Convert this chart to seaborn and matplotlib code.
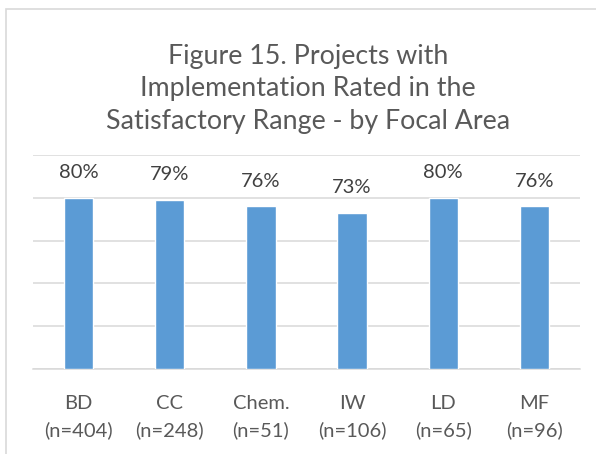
import matplotlib
matplotlib.use("Agg")
import matplotlib.pyplot as plt
import seaborn as sns
import pandas as pd
from matplotlib.patches import Rectangle

categories = ["BD", "CC", "Chem.", "IW", "LD", "MF"]
counts = ["n=404", "n=248", "n=51", "n=106", "n=65", "n=96"]
values = [0.80, 0.79, 0.76, 0.73, 0.80, 0.76]
value_labels = ["80%", "79%", "76%", "73%", "80%", "76%"]
title = "Figure 15. Projects with\nImplementation Rated in the\nSatisfactory Range - by Focal Area"

sns.set_theme(style="white")
plt.rcParams["font.family"] = ["Lato", "DejaVu Sans"]

W, H = 596, 454
fig = plt.figure(figsize=(W / 100, H / 100), dpi=100)
fig.patch.set_facecolor("white")

# chart border (cropped on right/bottom)
fig.patches.append(Rectangle((6 / W, -0.2), 1.2, (H - 9) / H + 0.2,
                             transform=fig.transFigure, fill=False,
                             edgecolor="#D9D9D9", lw=1.2, zorder=0))

ax = fig.add_axes([33 / W, (H - 369) / H, (580 - 33) / W, (369 - 155) / H])
df = pd.DataFrame({"cat": categories, "val": values})
sns.barplot(data=df, x="cat", y="val", color="#5B9BD5", width=0.32,
            saturation=1, ax=ax, zorder=3)
ax.set_ylim(0, 1.0)
ax.set_yticks([0, 0.2, 0.4, 0.6, 0.8, 1.0])
ax.yaxis.grid(True, color="#D9D9D9", lw=1.1)
ax.set_axisbelow(True)
for s in ["left", "right", "top"]:
    ax.spines[s].set_visible(False)
ax.spines["bottom"].set_color("#D9D9D9")
ax.spines["bottom"].set_linewidth(1.1)
ax.tick_params(axis="y", left=False, labelleft=False)
ax.tick_params(axis="x", bottom=False, pad=13)
ax.set_xticks(range(len(categories)))
ax.set_xticklabels([f"{c}\n({n})" for c, n in zip(categories, counts)],
                   fontsize=14.5, color="#595959", linespacing=1.62)
ax.set_xlabel("")
ax.set_ylabel("")

for i, (v, lab) in enumerate(zip(values, value_labels)):
    ax.annotate(lab, (i, v), xytext=(0, 12), textcoords="offset points",
                ha="center", va="bottom", fontsize=14.5, color="#404040")

fig.text(308 / W, (H - 134) / H, title, ha="center", va="bottom",
         fontsize=19.3, color="#595959", linespacing=1.38)

fig.savefig("out.png", dpi=100)
